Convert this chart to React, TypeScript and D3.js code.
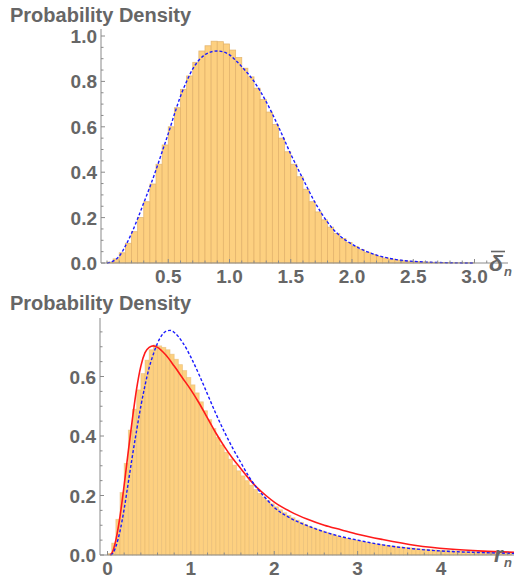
import React from "react";
import * as d3 from "d3";

// ---------- DATA ----------
const topBinWidth = 0.05;
const topHist = [0.004,0.018,0.045,0.087,0.138,0.2,0.27,0.348,0.435,0.52,0.60,0.684,0.765,0.824,0.884,0.934,0.957,0.977,0.975,0.965,0.938,0.905,0.858,0.82,0.77,0.72,0.665,0.61,0.55,0.49,0.435,0.38,0.325,0.27,0.225,0.19,0.158,0.13,0.108,0.09,0.073,0.059,0.047,0.037,0.029,0.022,0.017,0.013,0.01,0.008,0.006,0.005,0.004,0.003,0.002,0.002,0.001,0.001,0.001,0.001];
const topCurveX = [0,0.05,0.1,0.15,0.2,0.25,0.3,0.35,0.4,0.45,0.5,0.55,0.6,0.65,0.7,0.75,0.8,0.85,0.9,0.95,1.0,1.05,1.1,1.15,1.2,1.3,1.4,1.5,1.6,1.7,1.8,1.9,2.0,2.1,2.2,2.3,2.4,2.5,2.6,2.8,3.0];
const topCurveY = [0,0.008,0.03,0.075,0.13,0.195,0.265,0.335,0.41,0.49,0.57,0.655,0.735,0.8,0.855,0.893,0.918,0.93,0.934,0.93,0.917,0.893,0.865,0.835,0.8,0.71,0.6,0.48,0.37,0.265,0.18,0.12,0.083,0.055,0.035,0.021,0.012,0.007,0.004,0.001,0];
const topXTicks = [0.5,1.0,1.5,2.0,2.5,3.0];
const topYTicks = [0,0.2,0.4,0.6,0.8,1.0];

const botBinWidth = 0.05;
const botHist = [0.005,0.04,0.12,0.21,0.308,0.42,0.49,0.555,0.61,0.655,0.69,0.706,0.703,0.698,0.69,0.675,0.658,0.64,0.62,0.597,0.572,0.545,0.515,0.485,0.455,0.425,0.395,0.37,0.345,0.322,0.302,0.283,0.266,0.25,0.235,0.22,0.207,0.195,0.183,0.172,0.162,0.152,0.142,0.133,0.125,0.117,0.11,0.103,0.097,0.091,0.086,0.081,0.076,0.071,0.067,0.063,0.059,0.056,0.053,0.05,0.047,0.044,0.042,0.04,0.037,0.035,0.033,0.031,0.03,0.028,0.027,0.025,0.024,0.023,0.021,0.02,0.019,0.018,0.017,0.016,0.016,0.015,0.014,0.013,0.013,0.012,0.012,0.011,0.011,0.01,0.01,0.009,0.009,0.008,0.008,0.008,0.007];
const redX = [0.03,0.06,0.1,0.15,0.2,0.25,0.3,0.35,0.4,0.45,0.5,0.55,0.6,0.7,0.8,0.9,1.0,1.1,1.2,1.3,1.4,1.5,1.6,1.7,1.8,1.9,2.0,2.2,2.4,2.6,2.8,3.0,3.3,3.7,4.1,4.5,4.9];
const redY = [0,0.01,0.05,0.13,0.235,0.35,0.46,0.56,0.635,0.68,0.698,0.703,0.698,0.672,0.635,0.595,0.555,0.51,0.46,0.41,0.365,0.325,0.29,0.255,0.225,0.2,0.178,0.145,0.12,0.1,0.085,0.07,0.052,0.032,0.02,0.013,0.009];
const blueX = [0.04,0.07,0.1,0.15,0.2,0.25,0.3,0.35,0.4,0.45,0.5,0.55,0.6,0.65,0.7,0.75,0.8,0.9,1.0,1.1,1.2,1.3,1.4,1.5,1.6,1.7,1.8,1.9,2.0,2.2,2.4,2.6,2.8,3.0,3.3,3.7,4.1,4.5,4.9];
const blueY = [0,0.008,0.028,0.08,0.155,0.245,0.335,0.42,0.5,0.57,0.63,0.675,0.712,0.738,0.752,0.755,0.748,0.715,0.665,0.605,0.54,0.475,0.415,0.36,0.31,0.262,0.222,0.19,0.16,0.123,0.098,0.078,0.062,0.05,0.034,0.02,0.012,0.008,0.005];
const botXTicks = [0,1,2,3,4];
const botYTicks = [0,0.2,0.4,0.6];

// ---------- STYLE ----------
const FONT = "'Liberation Sans', Arial, Helvetica, sans-serif";
const TXT = "#666666";
const AX = "#8a8a8a";
const BAR_FILL = "#FDD080";
const BAR_EDGE = "#E2B36A";

const fmt1 = (v: number) => v.toFixed(1);

function Panel(props: {
  x: d3.ScaleLinear<number, number>;
  y: d3.ScaleLinear<number, number>;
  hist: number[];
  binW: number;
  curves: { xs: number[]; ys: number[]; color: string; dash?: string; width: number }[];
  xTicks: number[];
  xMinor: number;
  xFmt: (v: number) => string;
  yTicks: number[];
  yMinor: number;
  axisX0: number;
  axisX1: number;
  axisYTop: number;
  clipId: string;
  edgeOpacity: number;
}) {
  const { x, y, hist, binW, curves, xTicks, xMinor, xFmt, yTicks, yMinor, axisX0, axisX1, axisYTop, clipId, edgeOpacity } = props;
  const y0 = y(0);
  const line = d3
    .line<[number, number]>()
    .x((d) => x(d[0]))
    .y((d) => y(d[1]))
    .curve(d3.curveMonotoneX);
  const xMinVal = x.invert(axisX0);
  const xMaxVal = x.invert(axisX1);
  const minorX: number[] = [];
  for (let v = Math.ceil(xMinVal / xMinor) * xMinor; v <= xMaxVal + 1e-9; v += xMinor) minorX.push(+v.toFixed(4));
  const yMaxVal = y.invert(axisYTop);
  const minorY: number[] = [];
  for (let v = 0; v <= yMaxVal + 1e-9; v += yMinor) minorY.push(+v.toFixed(4));
  const isMajor = (v: number, arr: number[]) => arr.some((t) => Math.abs(t - v) < 1e-6);
  return (
    <g>
      <defs>
        <clipPath id={clipId}>
          <rect x={axisX0} y={axisYTop - 10} width={axisX1 - axisX0} height={y0 - axisYTop + 12} />
        </clipPath>
      </defs>
      <g clipPath={`url(#${clipId})`}>
        {hist.map((v, i) => (
          <rect
            key={i}
            x={x(i * binW)}
            y={y(v)}
            width={x((i + 1) * binW) - x(i * binW)}
            height={y0 - y(v)}
            fill={BAR_FILL}
            stroke={BAR_EDGE}
            strokeOpacity={edgeOpacity}
            strokeWidth={0.8}
          />
        ))}
        {curves.map((c, k) => (
          <path
            key={k}
            d={line(c.xs.map((xv, i) => [xv, c.ys[i]] as [number, number])) || ""}
            fill="none"
            stroke={c.color}
            strokeWidth={c.width}
            strokeDasharray={c.dash}
          />
        ))}
      </g>
      {/* axes */}
      <line x1={axisX0} x2={axisX1} y1={y0} y2={y0} stroke={AX} strokeWidth={1} />
      <line x1={axisX0} x2={axisX0} y1={axisYTop} y2={y0} stroke={AX} strokeWidth={1} />
      {minorX.map((v, i) => (
        <line key={"mx" + i} x1={x(v)} x2={x(v)} y1={y0} y2={y0 - (isMajor(v, xTicks) ? 4 : 2.5)} stroke={AX} strokeWidth={1} />
      ))}
      {minorY.map((v, i) => (
        <line key={"my" + i} x1={axisX0} x2={axisX0 + (isMajor(v, yTicks) ? 4 : 2.5)} y1={y(v)} y2={y(v)} stroke={AX} strokeWidth={1} />
      ))}
      {xTicks.map((t, i) => (
        <text key={"xt" + i} x={x(t)} y={y0 + 20} textAnchor="middle" fontFamily={FONT} fontWeight="bold" fontSize={19} fill={TXT}>
          {xFmt(t)}
        </text>
      ))}
      {yTicks.map((t, i) => (
        <text key={"yt" + i} x={axisX0 - 4} y={y(t) + 7} textAnchor="end" fontFamily={FONT} fontWeight="bold" fontSize={19} fill={TXT}>
          {fmt1(t)}
        </text>
      ))}
    </g>
  );
}

export default function App() {
  const xTop = d3.scaleLinear().domain([0, 3]).range([107, 474.5]);
  const yTop = d3.scaleLinear().domain([0, 1]).range([263, 36]);
  const xBot = d3.scaleLinear().domain([0, 4]).range([107.5, 441]);
  const yBot = d3.scaleLinear().domain([0, 0.6]).range([555, 376.5]);

  return (
    <div style={{ position: "absolute", left: 0, top: 0 }}>
      <svg width={514} height={580} style={{ display: "block", background: "#fff" }}>
        <text x={10} y={21.5} fontFamily={FONT} fontWeight="bold" fontSize={20} fill={TXT}>
          Probability Density
        </text>
        <Panel
          x={xTop}
          y={yTop}
          hist={topHist}
          binW={topBinWidth}
          curves={[{ xs: topCurveX, ys: topCurveY, color: "#1a1aff", dash: "3,2", width: 1.4 }]}
          xTicks={topXTicks}
          xMinor={0.1}
          xFmt={fmt1}
          yTicks={topYTicks}
          yMinor={0.05}
          axisX0={101}
          axisX1={508}
          axisYTop={29}
          clipId="clipTop"
          edgeOpacity={0.9}
        />
        {/* delta-bar_n label */}
        <text x={489} y={271} fontFamily={FONT} fontWeight="bold" fontStyle="italic" fontSize={23} fill={TXT}>
          δ
        </text>
        <line x1={491} x2={505} y1={251.5} y2={251.5} stroke={TXT} strokeWidth={1.6} />
        <text x={504} y={276} fontFamily={FONT} fontWeight="bold" fontStyle="italic" fontSize={13} fill={TXT}>
          n
        </text>

        <text x={10} y={310} fontFamily={FONT} fontWeight="bold" fontSize={20} fill={TXT}>
          Probability Density
        </text>
        <Panel
          x={xBot}
          y={yBot}
          hist={botHist}
          binW={botBinWidth}
          curves={[
            { xs: redX, ys: redY, color: "#ff1a1a", width: 1.6 },
            { xs: blueX, ys: blueY, color: "#1a1aff", dash: "3,2", width: 1.4 },
          ]}
          xTicks={botXTicks}
          xMinor={0.2}
          xFmt={(v) => String(v)}
          yTicks={botYTicks}
          yMinor={0.05}
          axisX0={100}
          axisX1={514}
          axisYTop={318}
          clipId="clipBot"
          edgeOpacity={0.5}
        />
        <text x={494} y={562} fontFamily={FONT} fontWeight="bold" fontStyle="italic" fontSize={22} fill={TXT}>
          r
        </text>
        <text x={504} y={567} fontFamily={FONT} fontWeight="bold" fontStyle="italic" fontSize={13} fill={TXT}>
          n
        </text>
      </svg>
    </div>
  );
}
